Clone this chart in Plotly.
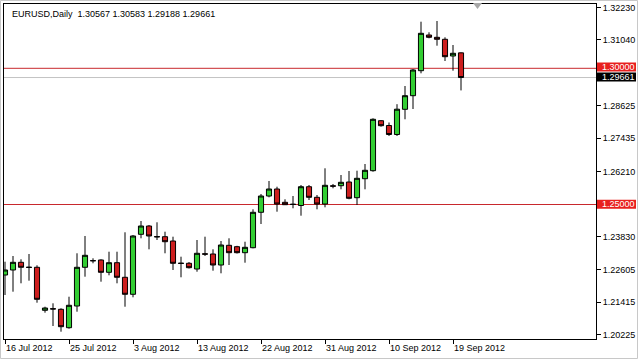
import plotly.graph_objects as go

dates = [
    "2012-07-16", "2012-07-17", "2012-07-18", "2012-07-19", "2012-07-20", "2012-07-22",
    "2012-07-23", "2012-07-24", "2012-07-25", "2012-07-26", "2012-07-27", "2012-07-29",
    "2012-07-30", "2012-07-31", "2012-08-01", "2012-08-02", "2012-08-03", "2012-08-05",
    "2012-08-06", "2012-08-07", "2012-08-08", "2012-08-09", "2012-08-10", "2012-08-12",
    "2012-08-13", "2012-08-14", "2012-08-15", "2012-08-16", "2012-08-17", "2012-08-19",
    "2012-08-20", "2012-08-21", "2012-08-22", "2012-08-23", "2012-08-24", "2012-08-26",
    "2012-08-27", "2012-08-28", "2012-08-29", "2012-08-30", "2012-08-31", "2012-09-02",
    "2012-09-03", "2012-09-04", "2012-09-05", "2012-09-06", "2012-09-07", "2012-09-09",
    "2012-09-10", "2012-09-11", "2012-09-12", "2012-09-13", "2012-09-14", "2012-09-16",
    "2012-09-17", "2012-09-18", "2012-09-19", "2012-09-20",
]

open_ = [
    1.22412, 1.22596, 1.22878, 1.22700, 1.22695, 1.21116, 1.21175, 1.21153, 1.20477, 1.21274,
    1.22695, 1.22940, 1.22963, 1.22511, 1.22864, 1.22328, 1.21704, 1.23906, 1.24211, 1.23825,
    1.23818, 1.23660, 1.22847, 1.22842, 1.22632, 1.23190, 1.23183, 1.22779, 1.23502, 1.23451,
    1.23231, 1.23414, 1.24714, 1.25312, 1.25569, 1.25081, 1.25012, 1.24963, 1.25653, 1.25264,
    1.25018, 1.25684, 1.25690, 1.25826, 1.25250, 1.25947, 1.26241, 1.28076, 1.27900, 1.27570,
    1.28495, 1.28994, 1.29912, 1.31222, 1.31138, 1.31065, 1.30452, 1.30567,
]
high = [
    1.22900, 1.23109, 1.22988, 1.23183, 1.22768, 1.21248, 1.21373, 1.21190, 1.21615, 1.23209,
    1.23844, 1.23025, 1.22988, 1.23267, 1.23267, 1.23980, 1.23880, 1.24394, 1.24248, 1.24347,
    1.24002, 1.23818, 1.23084, 1.22889, 1.23697, 1.23818, 1.23355, 1.23660, 1.23759, 1.23484,
    1.23634, 1.24824, 1.25386, 1.25863, 1.25653, 1.25191, 1.25312, 1.25716, 1.25716, 1.25349,
    1.26329, 1.25753, 1.26083, 1.26230, 1.26241, 1.26487, 1.28164, 1.28102, 1.28010, 1.28682,
    1.29350, 1.29974, 1.31711, 1.31322, 1.31736, 1.31138, 1.30855, 1.30583,
]
low = [
    1.21678, 1.21799, 1.22107, 1.22203, 1.21395, 1.21028, 1.20540, 1.20331, 1.20441, 1.21065,
    1.22350, 1.22842, 1.22166, 1.22401, 1.22107, 1.21248, 1.21593, 1.23759, 1.23355, 1.23697,
    1.23209, 1.22596, 1.22328, 1.22651, 1.22533, 1.23109, 1.22570, 1.22474, 1.22779, 1.23201,
    1.22864, 1.23392, 1.24284, 1.25264, 1.24736, 1.24982, 1.24861, 1.24589, 1.25165, 1.24824,
    1.24897, 1.25595, 1.25558, 1.25191, 1.24982, 1.25558, 1.26204, 1.27856, 1.27515, 1.27515,
    1.28128, 1.28506, 1.29816, 1.31101, 1.30830, 1.30268, 1.29912, 1.29188,
]
close = [
    1.22596, 1.22878, 1.22695, 1.22690, 1.21520, 1.21200, 1.21165, 1.20514, 1.21300, 1.22695,
    1.23135, 1.22935, 1.22511, 1.22864, 1.22328, 1.21704, 1.23844, 1.24211, 1.23844, 1.23812,
    1.23634, 1.22842, 1.22837, 1.22680, 1.23209, 1.23178, 1.22779, 1.23513, 1.23231, 1.23231,
    1.23429, 1.24714, 1.25312, 1.25569, 1.25018, 1.24993, 1.25002, 1.25653, 1.25264, 1.25018,
    1.25705, 1.25674, 1.25815, 1.25228, 1.25962, 1.26256, 1.28128, 1.27893, 1.27570, 1.28499,
    1.28994, 1.29938, 1.31285, 1.31138, 1.31065, 1.30426, 1.30551, 1.29661,
]

x_tick_dates = ["2012-07-16", "2012-07-25", "2012-08-03", "2012-08-13",
                "2012-08-22", "2012-08-31", "2012-09-10", "2012-09-19"]
x_tick_text = ["16 Jul 2012", "25 Jul 2012", "3 Aug 2012", "13 Aug 2012",
               "22 Aug 2012", "31 Aug 2012", "10 Sep 2012", "19 Sep 2012"]
y_tick_vals = [1.32230, 1.31040, 1.28625, 1.27435, 1.26210,
               1.23830, 1.22605, 1.21415, 1.20225]
y_tick_text = ["1.32230", "1.31040", "1.28625", "1.27435", "1.26210",
               "1.23830", "1.22605", "1.21415", "1.20225"]

hlines = [1.30000, 1.25000]
bid_price = 1.29661
title_text = "EURUSD,Daily  1.30567 1.30583 1.29188 1.29661"

FONT = "Liberation Sans, Arial, sans-serif"
FS = 9
PX = 0.0003671          # price per pixel on the vertical axis
PLOT_W, PLOT_H = 592, 335

fig = go.Figure()
fig.add_trace(go.Candlestick(
    x=dates, open=open_, high=high, low=low, close=close,
    increasing=dict(line=dict(color="black", width=1), fillcolor="#32CD32"),
    decreasing=dict(line=dict(color="black", width=1), fillcolor="#CC1E1E"),
    whiskerwidth=0, showlegend=False, hoverinfo="skip",
))

for h in hlines:
    fig.add_hline(y=h, line=dict(color="#C8282D", width=1), layer="below")
fig.add_hline(y=bid_price, line=dict(color="#C4C4C4", width=1), layer="below")

# price labels on the right axis: (value, background, vertical offset of box centre in px)
labels = [(hlines[0], "#E8201E", 1.3), (bid_price, "black", 0.6), (hlines[1], "#E8201E", 0.3)]
for val, bg, up in labels:
    yc = val + up * PX
    fig.add_shape(type="rect", xref="paper", yref="y",
                  x0=1 + 1 / PLOT_W, x1=1 + 40 / PLOT_W,
                  y0=yc - 4.5 * PX, y1=yc + 4.5 * PX,
                  fillcolor=bg, line=dict(width=0), layer="above")
    fig.add_annotation(
        x=1, xref="paper", xanchor="left", xshift=4,
        y=yc, yref="y", yanchor="middle",
        text=f"{val:.5f}", showarrow=False,
        font=dict(color="white", size=FS, family=FONT),
    )

fig.add_annotation(
    x=6 / PLOT_W, xref="paper", xanchor="left",
    y=1 - 3 / PLOT_H, yref="paper", yanchor="top",
    text=title_text, showarrow=False,
    font=dict(color="black", size=FS, family=FONT),
)

# chart-shift marker (small gray triangle at the top)
fig.add_shape(type="path", xref="paper", yref="paper",
              path="M 0.7922 1.003 L 0.8074 1.003 L 0.7998 0.985 Z",
              fillcolor="#A8A8A8", line=dict(width=0))
# window frame
fig.add_shape(type="rect", xref="paper", yref="paper",
              x0=-3.5 / PLOT_W, x1=633.5 / PLOT_W, y0=-19.5 / PLOT_H, y1=338.5 / PLOT_H,
              line=dict(color="#C8C8C8", width=1), fillcolor="rgba(0,0,0,0)")

y_top = 1.30 + 64.3 * PX
y_bot = 1.30 - 270.7 * PX

fig.update_layout(
    width=638, height=360,
    margin=dict(l=4, r=42, t=4, b=21),
    paper_bgcolor="white", plot_bgcolor="white",
    boxgap=0.2, boxgroupgap=0.2,
    font=dict(family=FONT, size=FS, color="black"),
    xaxis=dict(
        type="category", range=[-0.125, 73.875],
        rangeslider=dict(visible=False), automargin=False,
        tickvals=x_tick_dates, ticktext=x_tick_text, tickangle=0,
        ticks="outside", ticklen=4, tickcolor="black",
        ticklabelposition="outside right",
        showline=True, linecolor="black", linewidth=1, mirror=True,
        showgrid=False, zeroline=False,
        tickfont=dict(size=FS, family=FONT, color="black"),
    ),
    yaxis=dict(
        side="right", range=[y_bot, y_top], automargin=False,
        tickvals=y_tick_vals, ticktext=y_tick_text,
        ticks="outside", ticklen=4, tickcolor="black",
        showline=True, linecolor="black", linewidth=1, mirror=True,
        showgrid=False, zeroline=False,
        tickfont=dict(size=FS, family=FONT, color="black"),
    ),
)

fig.write_html("out.html", config={"displayModeBar": False})
